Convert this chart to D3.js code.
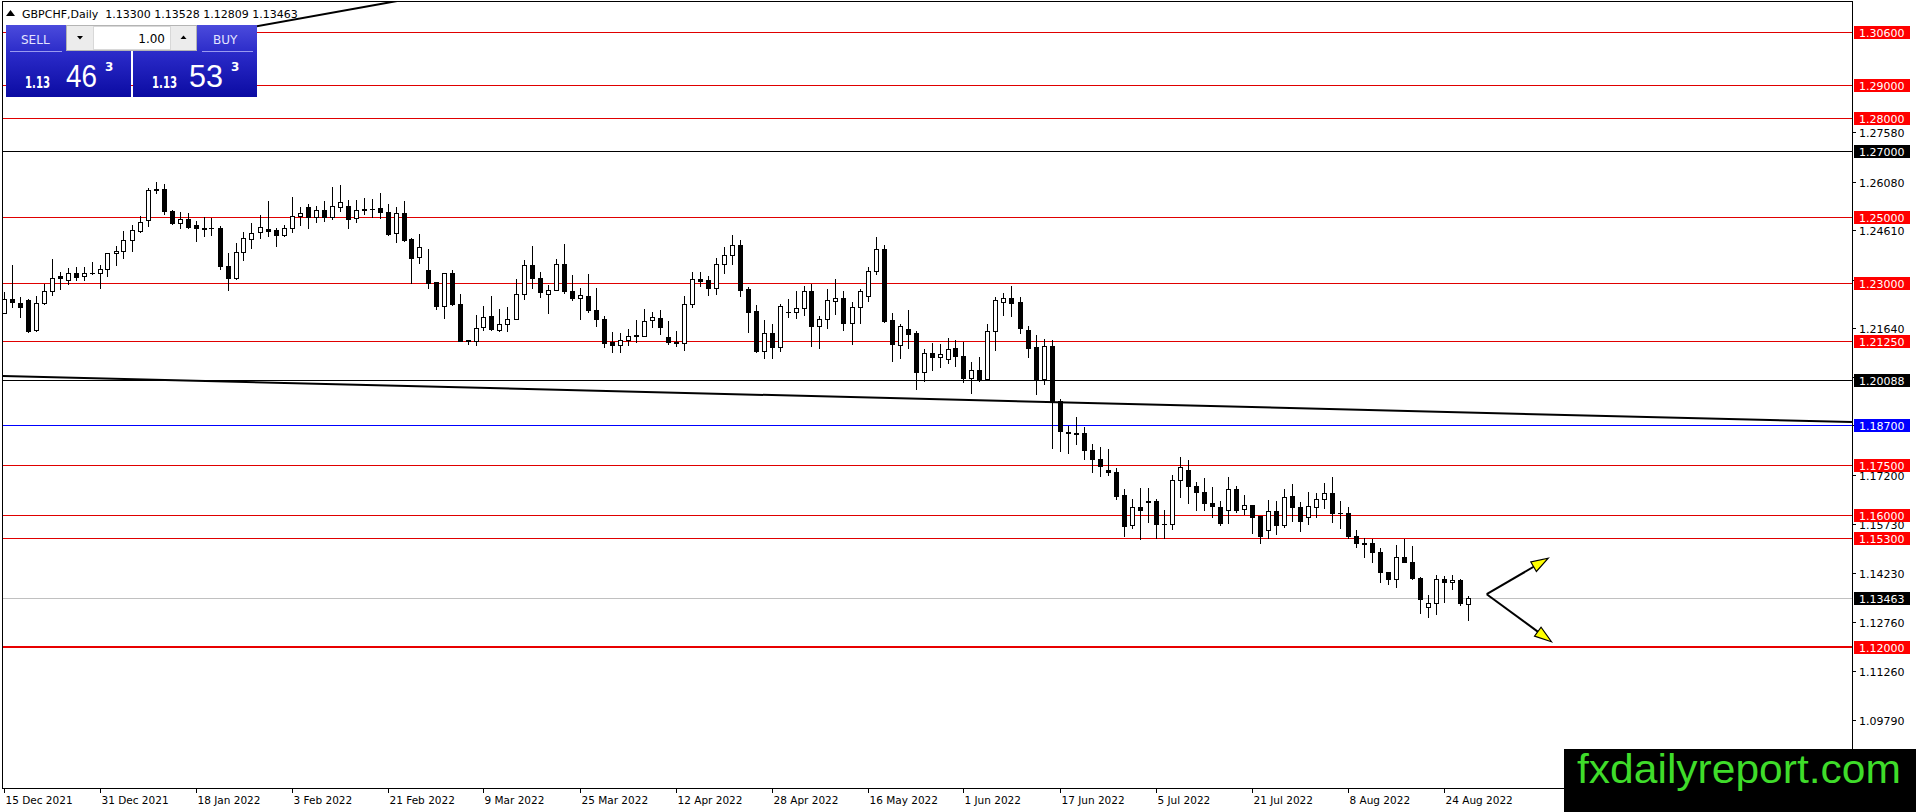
<!DOCTYPE html>
<html><head><meta charset="utf-8">
<script src="https://cdn.jsdelivr.net/npm/d3@7"></script>
<style>html,body{margin:0;padding:0;background:#fff;overflow:hidden}</style>
</head><body>
<svg id="chart" width="1916" height="812"></svg>
<script>
// ---------------- DATA ----------------
const symbolTitle = "GBPCHF,Daily  1.13300 1.13528 1.12809 1.13463";
const dateTicks = ["15 Dec 2021","31 Dec 2021","18 Jan 2022","3 Feb 2022","21 Feb 2022","9 Mar 2022","25 Mar 2022","12 Apr 2022","28 Apr 2022","16 May 2022","1 Jun 2022","17 Jun 2022","5 Jul 2022","21 Jul 2022","8 Aug 2022","24 Aug 2022"];
const barsPerDateTick = 12;

const opens = [
1.2211,1.2252,1.2242,1.2249,1.2159,1.2240,1.2276,1.2321,1.2310,1.2331,
1.2322,1.2330,1.2331,1.2344,1.2391,1.2397,1.2430,1.2459,1.2492,1.2586,
1.2586,1.2520,1.2484,1.2496,1.2476,1.2469,1.2469,1.2469,1.2352,1.2316,
1.2394,1.2433,1.2455,1.2465,1.2461,1.2447,1.2467,1.2503,1.2530,1.2500,
1.2521,1.2502,1.2532,1.2534,1.2497,1.2525,1.2525,1.2528,1.2515,1.2452,
1.2512,1.2434,1.2379,1.2340,1.2303,1.2232,1.2330,1.2239,1.2128,1.2125,
1.2167,1.2201,1.2160,1.2178,1.2193,1.2269,1.2357,1.2317,1.2269,1.2281,
1.2360,1.2278,1.2257,1.2261,1.2220,1.2193,1.2122,1.2115,1.2129,1.2144,
1.2142,1.2188,1.2196,1.2139,1.2123,1.2120,1.2238,1.2312,1.2309,1.2287,
1.2360,1.2387,1.2415,1.2282,1.2215,1.2094,1.2150,1.2107,1.2214,1.2214,
1.2226,1.2276,1.2171,1.2191,1.2248,1.2256,1.2180,1.2230,1.2262,1.2337,
1.2405,1.2190,1.2115,1.2163,1.2149,1.2031,1.2089,1.2077,1.2072,1.2105,
1.2079,1.2013,1.2038,1.2011,1.2157,1.2245,1.2255,1.2245,1.2159,1.2106,
1.2010,1.2111,1.1943,1.1850,1.1848,1.1847,1.1797,1.1769,1.1736,1.1729,
1.1658,1.1568,1.1624,1.1640,1.1640,1.1572,1.1572,1.1706,1.1734,1.1688,
1.1669,1.1636,1.1624,1.1614,1.1676,1.1616,1.1628,1.1596,1.1553,1.1611,
1.1570,1.1656,1.1622,1.1592,1.1622,1.1646,1.1664,1.1605,1.1604,1.1536,
1.1513,1.1513,1.1486,1.1425,1.1404,1.1471,1.1455,1.1407,1.1321,1.1331,
1.1404,1.1395,1.1402,1.1330];
const highs = [
1.2275,1.2356,1.2259,1.2252,1.2261,1.2299,1.2374,1.2334,1.2347,1.2349,
1.2349,1.2364,1.2356,1.2393,1.2412,1.2458,1.2476,1.2503,1.2589,1.2607,
1.2602,1.2522,1.2517,1.2514,1.2489,1.2502,1.2499,1.2474,1.2391,1.2422,
1.2457,1.2482,1.2507,1.2550,1.2469,1.2477,1.2561,1.2532,1.2541,1.2534,
1.2550,1.2591,1.2598,1.2553,1.2553,1.2558,1.2556,1.2573,1.2540,1.2530,
1.2548,1.2436,1.2449,1.2403,1.2303,1.2333,1.2342,1.2268,1.2130,1.2204,
1.2231,1.2261,1.2221,1.2228,1.2314,1.2370,1.2412,1.2336,1.2296,1.2375,
1.2418,1.2324,1.2286,1.2329,1.2287,1.2201,1.2152,1.2150,1.2163,1.2188,
1.2223,1.2213,1.2218,1.2185,1.2155,1.2261,1.2334,1.2336,1.2321,1.2378,
1.2410,1.2446,1.2430,1.2289,1.2235,1.2188,1.2178,1.2238,1.2252,1.2276,
1.2292,1.2299,1.2201,1.2282,1.2312,1.2276,1.2245,1.2284,1.2350,1.2439,
1.2417,1.2210,1.2176,1.2220,1.2155,1.2102,1.2119,1.2117,1.2135,1.2130,
1.2122,1.2062,1.2077,1.2177,1.2260,1.2272,1.2292,1.2258,1.2171,1.2144,
1.2131,1.2129,1.1951,1.1869,1.1894,1.1864,1.1815,1.1804,1.1799,1.1741,
1.1678,1.1646,1.1681,1.1681,1.1646,1.1613,1.1721,1.1775,1.1765,1.1698,
1.1711,1.1684,1.1641,1.1715,1.1686,1.1659,1.1629,1.1596,1.1644,1.1641,
1.1676,1.1693,1.1639,1.1667,1.1666,1.1697,1.1715,1.1641,1.1622,1.1553,
1.1530,1.1526,1.1500,1.1427,1.1508,1.1525,1.1505,1.1410,1.1356,1.1417,
1.1414,1.1417,1.1404,1.1353];
const lows = [
1.2209,1.2228,1.2198,1.2154,1.2157,1.2238,1.2266,1.2282,1.2299,1.2309,
1.2309,1.2328,1.2286,1.2322,1.2356,1.2377,1.2399,1.2456,1.2474,1.2574,
1.2509,1.2481,1.2469,1.2467,1.2429,1.2444,1.2448,1.2344,1.2279,1.2314,
1.2371,1.2408,1.2436,1.2444,1.2414,1.2444,1.2455,1.2477,1.2467,1.2485,
1.2490,1.2496,1.2519,1.2467,1.2485,1.2509,1.2500,1.2497,1.2447,1.2424,
1.2429,1.2300,1.2363,1.2287,1.2224,1.2194,1.2236,1.2125,1.2118,1.2113,
1.2158,1.2159,1.2155,1.2155,1.2193,1.2252,1.2286,1.2259,1.2210,1.2279,
1.2271,1.2249,1.2193,1.2213,1.2170,1.2107,1.2092,1.2092,1.2114,1.2122,
1.2142,1.2168,1.2147,1.2117,1.2110,1.2097,1.2228,1.2292,1.2264,1.2267,
1.2332,1.2358,1.2262,1.2152,1.2092,1.2074,1.2074,1.2094,1.2198,1.2195,
1.2205,1.2110,1.2104,1.2165,1.2208,1.2160,1.2117,1.2180,1.2248,1.2329,
1.2183,1.2066,1.2074,1.2105,1.1981,1.2004,1.2039,1.2046,1.2058,1.2049,
1.2001,1.1969,1.2006,1.2008,1.2099,1.2205,1.2200,1.2149,1.2077,1.1965,
1.1995,1.1802,1.1792,1.1787,1.1815,1.1767,1.1728,1.1718,1.1721,1.1646,
1.1535,1.1560,1.1527,1.1577,1.1530,1.1530,1.1555,1.1654,1.1634,1.1614,
1.1614,1.1593,1.1567,1.1575,1.1609,1.1602,1.1545,1.1513,1.1528,1.1540,
1.1561,1.1582,1.1551,1.1573,1.1594,1.1619,1.1578,1.1560,1.1528,1.1501,
1.1471,1.1457,1.1397,1.1390,1.1382,1.1455,1.1404,1.1301,1.1291,1.1299,
1.1336,1.1374,1.1326,1.1281];
const closes = [
1.2252,1.2243,1.2228,1.2156,1.2241,1.2277,1.2316,1.2315,1.2331,1.2320,
1.2331,1.2331,1.2344,1.2391,1.2398,1.2430,1.2463,1.2487,1.2583,1.2582,
1.2519,1.2483,1.2494,1.2472,1.2468,1.2466,1.2468,1.2354,1.2316,1.2394,
1.2436,1.2452,1.2470,1.2460,1.2447,1.2467,1.2503,1.2512,1.2500,1.2522,
1.2500,1.2535,1.2545,1.2496,1.2521,1.2521,1.2525,1.2517,1.2450,1.2512,
1.2431,1.2378,1.2409,1.2300,1.2232,1.2330,1.2239,1.2126,1.2125,1.2165,
1.2199,1.2162,1.2178,1.2193,1.2269,1.2357,1.2316,1.2274,1.2281,1.2360,
1.2276,1.2256,1.2264,1.2218,1.2193,1.2119,1.2114,1.2128,1.2141,1.2140,
1.2187,1.2199,1.2168,1.2122,1.2119,1.2238,1.2312,1.2308,1.2286,1.2360,
1.2387,1.2415,1.2281,1.2213,1.2094,1.2150,1.2107,1.2233,1.2214,1.2227,
1.2276,1.2171,1.2191,1.2249,1.2256,1.2180,1.2230,1.2278,1.2337,1.2405,
1.2185,1.2117,1.2170,1.2146,1.2031,1.2089,1.2077,1.2085,1.2102,1.2079,
1.2013,1.2038,1.2009,1.2157,1.2250,1.2255,1.2242,1.2164,1.2104,1.2010,
1.2111,1.1943,1.1852,1.1847,1.1844,1.1795,1.1767,1.1746,1.1728,1.1656,
1.1565,1.1624,1.1614,1.1639,1.1573,1.1573,1.1704,1.1743,1.1688,1.1669,
1.1636,1.1626,1.1575,1.1676,1.1614,1.1628,1.1594,1.1536,1.1611,1.1570,
1.1652,1.1622,1.1582,1.1626,1.1646,1.1664,1.1604,1.1604,1.1536,1.1513,
1.1512,1.1486,1.1425,1.1404,1.1471,1.1455,1.1407,1.1343,1.1331,1.1404,
1.1395,1.1402,1.1331,1.1346];

// horizontal levels
const redLevels = [1.306, 1.29, 1.28, 1.25, 1.23, 1.2125, 1.175, 1.16, 1.153];
const thickRedLevels = [1.12];
const blackLevels = [1.27, 1.20088];
const blueLevels = [1.187];
const bidPrice = 1.13463;
const priceTicks = [1.2758, 1.2608, 1.2461, 1.2311, 1.2164, 1.2017, 1.1870, 1.1720, 1.1573, 1.1423, 1.1276, 1.1126, 1.0979];

// trend lines [barIndex, price]
const trendLower = [[-0.2, 1.2020], [231.1, 1.1880]];
const trendUpper = [[30.8, 1.3075], [49.9, 1.3158]];
// scenario arrows
const arrowOrigin = [185.4, 1.1359];
const arrowTargets = [[193.1, 1.1468], [193.5, 1.1215]];

// trade panel
const sellPrice = {big: "1.13", pips: "46", frac: "3"};
const buyPrice = {big: "1.13", pips: "53", frac: "3"};
const lotSize = "1.00";
const watermark = "fxdailyreport.com";

// ---------------- DRAW ----------------
const svg = d3.select("#chart");
const W = 1916, H = 812;
const plotL = 2, plotR = 1852, plotT = 1, plotB = 788;
const FONT = "'DejaVu Sans', Tahoma, sans-serif";

const x = d3.scaleLinear().domain([0, opens.length - 1]).range([3.5, 3.5 + 8 * (opens.length - 1)]);
const y = d3.scaleLinear().domain([1.12, 1.306]).range([646.7, 32.4]);
const cy = p => Math.round(y(p)) + 0.5;

svg.append("rect").attr("width", W).attr("height", H).attr("fill", "#fff");

const defs = svg.append("defs");
defs.append("clipPath").attr("id", "plotClip").append("rect")
  .attr("x", plotL + 1).attr("y", plotT + 1).attr("width", plotR - plotL - 1).attr("height", plotB - plotT - 1);
const grad = defs.append("linearGradient").attr("id", "blueGrad").attr("x1", 0).attr("y1", 0).attr("x2", 0).attr("y2", 1);
grad.append("stop").attr("offset", "0%").attr("stop-color", "#4b4bdc");
grad.append("stop").attr("offset", "40%").attr("stop-color", "#2a2ac8");
grad.append("stop").attr("offset", "100%").attr("stop-color", "#0b0ba2");

const plot = svg.append("g").attr("clip-path", "url(#plotClip)");

// level lines
const levelLine = (p, color, w) => {
  const yy = w === 2 ? Math.round(y(p)) : cy(p);
  plot.append("line").attr("x1", plotL).attr("x2", plotR).attr("y1", yy).attr("y2", yy)
    .attr("stroke", color).attr("stroke-width", w).attr("shape-rendering", "crispEdges");
};
redLevels.forEach(p => levelLine(p, "#e00000", 1));
thickRedLevels.forEach(p => levelLine(p, "#e80000", 2));
blackLevels.forEach(p => levelLine(p, "#000", 1));
blueLevels.forEach(p => levelLine(p, "#0000ff", 1));
levelLine(bidPrice, "#c0c0c0", 1);

// trend lines
const lineGen = d3.line().x(d => x(d[0])).y(d => y(d[1]));
plot.append("path").attr("d", lineGen(trendLower)).attr("stroke", "#000").attr("stroke-width", 2).attr("fill", "none");
plot.append("path").attr("d", lineGen(trendUpper)).attr("stroke", "#000").attr("stroke-width", 2).attr("fill", "none");

// candles
const idx = d3.range(opens.length);
const cg = plot.append("g").attr("shape-rendering", "crispEdges");
idx.forEach(i => {
  const cx = Math.round(x(i)) + 0.5;
  const o = opens[i], c = closes[i], h = highs[i], l = lows[i];
  cg.append("line").attr("x1", cx).attr("x2", cx).attr("y1", Math.round(y(h))).attr("y2", Math.round(y(l)) + 1)
    .attr("stroke", "#000").attr("stroke-width", 1);
  const top = Math.round(y(Math.max(o, c))), bot = Math.round(y(Math.min(o, c)));
  if (top === bot) {
    cg.append("line").attr("x1", cx - 2.5).attr("x2", cx + 2.5).attr("y1", top + 0.5).attr("y2", top + 0.5)
      .attr("stroke", "#000").attr("stroke-width", 1);
  } else {
    cg.append("rect").attr("x", cx - 2).attr("y", top + 0.5).attr("width", 4).attr("height", bot - top)
      .attr("fill", c > o ? "#fff" : "#000").attr("stroke", "#000").attr("stroke-width", 1);
  }
});

// arrows
const ag = svg.append("g");
const o0 = [x(arrowOrigin[0]), y(arrowOrigin[1])];
arrowTargets.forEach(t => {
  const p1 = [x(t[0]), y(t[1])];
  const dx = p1[0] - o0[0], dy = p1[1] - o0[1], len = Math.hypot(dx, dy);
  const ux = dx / len, uy = dy / len, hl = 17, hw = 5.5;
  const bx = p1[0] - ux * hl, by = p1[1] - uy * hl;
  ag.append("line").attr("x1", o0[0]).attr("y1", o0[1]).attr("x2", bx + ux * 2).attr("y2", by + uy * 2)
    .attr("stroke", "#000").attr("stroke-width", 2);
  ag.append("polygon")
    .attr("points", [[p1[0], p1[1]], [bx - uy * hw, by + ux * hw], [bx + uy * hw, by - ux * hw]].map(d => d.join(",")).join(" "))
    .attr("fill", "#ffff00").attr("stroke", "#000").attr("stroke-width", 1.2).attr("stroke-linejoin", "miter");
});

// frame
svg.append("rect").attr("x", plotL + 0.5).attr("y", plotT + 0.5).attr("width", plotR - plotL).attr("height", plotB - plotT)
  .attr("fill", "none").attr("stroke", "#000").attr("stroke-width", 1).attr("shape-rendering", "crispEdges");

// price axis ticks
const axG = svg.append("g").attr("font-family", FONT).attr("font-size", "11px");
priceTicks.forEach(p => {
  const yy = cy(p);
  axG.append("line").attr("x1", plotR).attr("x2", plotR + 4).attr("y1", yy).attr("y2", yy)
    .attr("stroke", "#000").attr("shape-rendering", "crispEdges");
  axG.append("text").attr("x", plotR + 7).attr("y", yy + 4).attr("fill", "#000").text(p.toFixed(5));
});

// level labels
const levelLabel = (p, bg) => {
  const yy = Math.round(y(p));
  axG.append("rect").attr("x", plotR + 2).attr("y", yy - 6).attr("width", 56).attr("height", 13).attr("fill", bg);
  axG.append("text").attr("x", plotR + 7).attr("y", yy + 4.5).attr("fill", "#fff").text(p.toFixed(5));
};
redLevels.forEach(p => levelLabel(p, "#ff0000"));
thickRedLevels.forEach(p => levelLabel(p, "#ff0000"));
blackLevels.forEach(p => levelLabel(p, "#000"));
blueLevels.forEach(p => levelLabel(p, "#0000ff"));
levelLabel(bidPrice, "#000");

// date axis
const dg = svg.append("g").attr("font-family", FONT).attr("font-size", "10.5px");
dateTicks.forEach((lab, k) => {
  const xx = Math.round(x(k * barsPerDateTick)) + 0.5;
  dg.append("line").attr("x1", xx).attr("x2", xx).attr("y1", plotB).attr("y2", plotB + 5)
    .attr("stroke", "#000").attr("shape-rendering", "crispEdges");
  dg.append("text").attr("x", xx + 1).attr("y", plotB + 16).attr("fill", "#000").text(lab);
});

// header
const hg = svg.append("g").attr("font-family", FONT).attr("font-size", "11px");
hg.append("polygon").attr("points", "6,16 10.5,10 15,16").attr("fill", "#000");
hg.append("text").attr("x", 22).attr("y", 17.5).attr("fill", "#000").attr("xml:space", "preserve").text(symbolTitle);

// trade panel
const pg = svg.append("g").attr("font-family", FONT);
pg.append("rect").attr("x", 6).attr("y", 25).attr("width", 125).attr("height", 72).attr("fill", "url(#blueGrad)");
pg.append("rect").attr("x", 133).attr("y", 25).attr("width", 124).attr("height", 72).attr("fill", "url(#blueGrad)");
pg.append("line").attr("x1", 10).attr("x2", 62).attr("y1", 51.5).attr("y2", 51.5).attr("stroke", "#9a9af0");
pg.append("line").attr("x1", 202).attr("x2", 253).attr("y1", 51.5).attr("y2", 51.5).attr("stroke", "#9a9af0");
pg.append("text").attr("x", 21).attr("y", 43.5).attr("font-size", "12px").attr("fill", "#e4e4ff").text("SELL");
pg.append("text").attr("x", 213).attr("y", 43.5).attr("font-size", "12px").attr("fill", "#e4e4ff").text("BUY");
// lot control
pg.append("rect").attr("x", 66.5).attr("y", 25.5).attr("width", 130).attr("height", 25).attr("fill", "#ececec").attr("stroke", "#b4b4b4");
pg.append("rect").attr("x", 93.5).attr("y", 26.5).attr("width", 77).attr("height", 23).attr("fill", "#fff").attr("stroke", "#d8d8d8");
pg.append("polygon").attr("points", "77,36 83,36 80,39.5").attr("fill", "#000");
pg.append("polygon").attr("points", "180.5,39 186.5,39 183.5,35.5").attr("fill", "#000");
pg.append("text").attr("x", 165).attr("y", 43).attr("font-size", "12px").attr("text-anchor", "end").attr("fill", "#000").text(lotSize);
// prices
const drawPrice = (pr, xBig, xPips, pipsW, xFrac) => {
  pg.append("text").attr("x", xBig).attr("y", 88).attr("font-size", "15px").attr("font-weight", "bold").attr("fill", "#fff")
    .attr("textLength", 25).attr("lengthAdjust", "spacingAndGlyphs").text(pr.big);
  pg.append("text").attr("x", xPips).attr("y", 87).attr("font-size", "32px").attr("fill", "#fff")
    .attr("font-family", "'Liberation Sans', Arial, sans-serif").attr("textLength", pipsW).attr("lengthAdjust", "spacingAndGlyphs").text(pr.pips);
  pg.append("text").attr("x", xFrac).attr("y", 71).attr("font-size", "12px").attr("font-weight", "bold").attr("fill", "#fff").text(pr.frac);
};
drawPrice(sellPrice, 25, 66, 31, 105);
drawPrice(buyPrice, 152, 189, 34, 231);

// watermark
svg.append("rect").attr("x", 1564).attr("y", 749).attr("width", W - 1564).attr("height", H - 749).attr("fill", "#000");
svg.append("text").attr("x", 1577).attr("y", 783).attr("font-family", "'Liberation Sans', Arial, sans-serif")
  .attr("font-size", "40px").attr("fill", "#3fdc2a").attr("textLength", 324).attr("lengthAdjust", "spacingAndGlyphs").text(watermark);
</script>
</body></html>
